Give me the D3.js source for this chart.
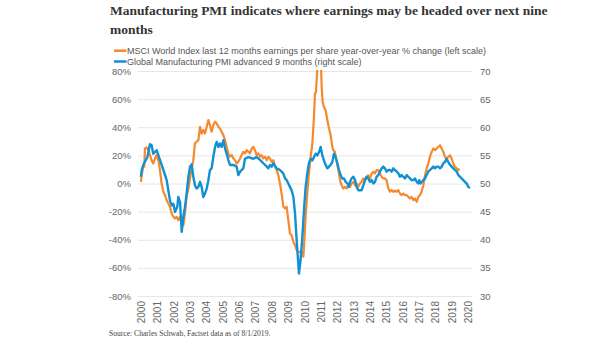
<!DOCTYPE html>
<html lang="en">
<head>
  <meta charset="UTF-8">
  <title>Manufacturing PMI vs. MSCI World EPS growth</title>
  <script src="https://d3js.org/d3.v7.min.js"></script>
  <style>
    body {
      margin: 0;
      background: #fff;
    }
    .title {
      font-family: "Liberation Serif", serif;
      font-weight: bold;
      font-size: 13.5px;
      fill: #333;
    }
    .legend text {
      font-family: "Liberation Sans", sans-serif;
      font-size: 9px;
      fill: #555;
    }
    .tick-label {
      font-family: "Liberation Sans", sans-serif;
      font-size: 9.5px;
      fill: #666;
    }
    .year-label {
      font-size: 10px;
    }
    .source {
      font-family: "Liberation Serif", serif;
      font-size: 7.6px;
      fill: #444;
    }
  </style>
</head>
<body>
  <svg width="605" height="341"></svg>

  <script>
    // MSCI World trailing 12m EPS, year-over-year % change (left scale)
    const epsYears = [
      2000.00, 2000.04, 2000.14, 2000.20, 2000.24, 2000.35, 2000.45, 2000.55, 2000.65, 2000.75,
      2000.86, 2000.96, 2001.06, 2001.16, 2001.26, 2001.37, 2001.47, 2001.57, 2001.77, 2001.88,
      2001.98, 2002.08, 2002.18, 2002.28, 2002.39, 2002.49, 2002.59, 2002.69, 2002.79, 2002.90,
      2003.00, 2003.10, 2003.20, 2003.30, 2003.40, 2003.51, 2003.61, 2003.71, 2003.81, 2003.91,
      2004.02, 2004.12, 2004.22, 2004.32, 2004.42, 2004.53, 2004.63, 2004.73, 2004.83, 2004.93,
      2005.04, 2005.14, 2005.24, 2005.34, 2005.44, 2005.55, 2005.65, 2005.75, 2005.85, 2005.95,
      2006.06, 2006.16, 2006.26, 2006.36, 2006.46, 2006.67, 2006.77, 2006.87, 2006.97, 2007.07,
      2007.18, 2007.28, 2007.38, 2007.48, 2007.58, 2007.69, 2007.79, 2007.89, 2007.99, 2008.09,
      2008.20, 2008.30, 2008.40, 2008.50, 2008.60, 2008.71, 2008.81, 2008.91, 2009.01, 2009.11,
      2009.21, 2009.32, 2009.42, 2009.52, 2009.62, 2009.72, 2009.83, 2009.93, 2009.97, 2010.07,
      2010.17, 2010.27, 2010.38, 2010.48, 2010.58, 2010.64, 2010.70, 2010.78, 2010.83, 2010.92,
      2011.00, 2011.05, 2011.11, 2011.19, 2011.29, 2011.40, 2011.50, 2011.60, 2011.70, 2011.76,
      2011.86, 2011.97, 2012.07, 2012.17, 2012.27, 2012.37, 2012.48, 2012.58, 2012.68, 2012.78,
      2012.88, 2012.99, 2013.09, 2013.19, 2013.29, 2013.39, 2013.49, 2013.60, 2013.70, 2013.80,
      2013.90, 2014.00, 2014.11, 2014.21, 2014.31, 2014.41, 2014.51, 2014.62, 2014.72, 2014.82,
      2014.92, 2015.02, 2015.13, 2015.23, 2015.33, 2015.43, 2015.53, 2015.64, 2015.74, 2015.84,
      2015.94, 2016.04, 2016.15, 2016.25, 2016.35, 2016.45, 2016.55, 2016.66, 2016.76, 2016.86,
      2016.90, 2016.96, 2017.06, 2017.16, 2017.27, 2017.37, 2017.47, 2017.57, 2017.67, 2017.78,
      2017.88, 2017.98, 2018.08, 2018.18, 2018.29, 2018.39, 2018.49, 2018.59, 2018.69, 2018.80,
      2018.90, 2019.00, 2019.10, 2019.20, 2019.31, 2019.41, 2019.47
    ];
    const epsValues = [
      1.2, 5.9, 11.9, 11.9, 24.9, 25.6, 23.7, 20.2, 16.6, 14.2,
      17.8, 20.2, 16.6, 9.5, 0, -5.9, -8.3, -11.9, -16.6, -21.4,
      -23.7, -24.9, -23.7, -26.1, -23.7, -28.5, -29.7, -21.4, -9.5, -3.6,
      3.6, 10.7, 16.6, 28.5, 29.7, 30.8, 40.3, 35.6, 38.0, 35.6,
      40.3, 45.1, 41.5, 36.8, 41.5, 43.9, 42.7, 40.3, 39.1, 36.8,
      34.4, 30.8, 26.1, 21.4, 19.0, 20.2, 17.8, 16.6, 14.2, 15.4,
      17.8, 20.2, 22.5, 21.4, 23.7, 21.4, 24.9, 26.1, 23.7, 20.2,
      21.4, 19.0, 20.2, 17.8, 19.0, 16.6, 19.0, 17.8, 15.4, 16.6,
      11.9, 9.5, 5.9, 0, -7.1, -16.6, -17.8, -16.6, -26.1, -35.6,
      -36.8, -41.5, -43.9, -47.4, -48.6, -48.6, -48.5, -52.1, -45.0, -23.7,
      -7.1, 7.1, 18.9, 28.4, 47.3, 63.9, 65.1, 80.5, 95.0, 102.0,
      88.0, 68.6, 58.0, 54.4, 52.1, 45.0, 39.1, 34.3, 26.0, 23.7,
      22.5, 15.4, 9.5, 2.4, -1.2, -3.6, -2.4, -3.6, -1.2, -2.4,
      0, 1.2, -1.2, 0, -2.4, 0, 1.2, 3.6, 2.4, 4.7,
      5.9, 3.6, 7.1, 8.3, 7.1, 9.5, 9.5, 7.1, 4.7, 3.6,
      3.6, 2.4, -3.6, -5.9, -4.7, -5.9, -5.2, -5.9, -4.7, -7.1,
      -8.3, -7.1, -8.3, -8.3, -9.5, -10.7, -9.5, -11.8, -10.7, -13.0,
      -11.8, -9.5, -8.3, -5.9, -1.2, 5.9, 10.7, 14.2, 18.9, 22.5,
      24.9, 23.7, 24.9, 26.0, 27.2, 24.9, 22.5, 18.9, 17.8, 18.9,
      20.1, 17.8, 14.2, 11.8, 10.7, 9.5, 10.7
    ];

    // Global manufacturing PMI, shifted forward 9 months (right scale)
    const pmiYears = [
      2000.00, 2000.04, 2000.14, 2000.24, 2000.39, 2000.55, 2000.65, 2000.75, 2000.96, 2001.16,
      2001.37, 2001.57, 2001.67, 2001.77, 2001.88, 2001.98, 2002.08, 2002.22, 2002.28, 2002.39,
      2002.49, 2002.59, 2002.69, 2002.79, 2002.90, 2003.00, 2003.10, 2003.20, 2003.30, 2003.40,
      2003.51, 2003.61, 2003.71, 2003.81, 2003.91, 2004.02, 2004.12, 2004.22, 2004.32, 2004.42,
      2004.53, 2004.63, 2004.73, 2004.83, 2004.93, 2005.04, 2005.14, 2005.24, 2005.34, 2005.44,
      2005.65, 2005.85, 2005.95, 2006.06, 2006.26, 2006.36, 2006.56, 2006.87, 2007.07, 2007.28,
      2007.48, 2007.69, 2007.79, 2007.89, 2007.99, 2008.09, 2008.30, 2008.50, 2008.70, 2008.81,
      2008.91, 2009.01, 2009.11, 2009.21, 2009.32, 2009.42, 2009.52, 2009.66, 2009.76, 2009.87,
      2009.97, 2010.07, 2010.17, 2010.27, 2010.38, 2010.48, 2010.58, 2010.68, 2010.78, 2010.89,
      2010.99, 2011.09, 2011.19, 2011.29, 2011.40, 2011.50, 2011.60, 2011.70, 2011.80, 2011.90,
      2012.01, 2012.11, 2012.21, 2012.31, 2012.41, 2012.52, 2012.62, 2012.72, 2012.78, 2012.88,
      2012.99, 2013.09, 2013.19, 2013.29, 2013.49, 2013.60, 2013.70, 2013.80, 2013.90, 2014.00,
      2014.11, 2014.21, 2014.31, 2014.41, 2014.51, 2014.62, 2014.72, 2014.82, 2014.92, 2015.02,
      2015.13, 2015.23, 2015.33, 2015.43, 2015.53, 2015.64, 2015.74, 2015.84, 2015.94, 2016.04,
      2016.15, 2016.25, 2016.35, 2016.45, 2016.55, 2016.66, 2016.76, 2016.86, 2016.96, 2017.02,
      2017.10, 2017.19, 2017.27, 2017.37, 2017.47, 2017.57, 2017.67, 2017.78, 2017.88, 2017.98,
      2018.08, 2018.18, 2018.29, 2018.39, 2018.49, 2018.59, 2018.69, 2018.80, 2018.90, 2019.00,
      2019.10, 2019.20, 2019.31, 2019.41, 2019.51, 2019.61, 2019.71, 2019.81, 2019.92, 2020.02,
      2020.12
    ];
    const pmiValues = [
      51.2, 52.4, 53.3, 53.9, 54.7, 57.0, 56.8, 55.3, 55.9, 54.2,
      52.4, 50.6, 48.8, 47.0, 46.1, 46.4, 44.95, 45.85, 47.6, 46.7,
      41.4, 44.1, 45.85, 48.2, 51.2, 53.0, 53.4, 51.2, 49.7, 49.1,
      49.4, 50.3, 49.4, 47.6, 48.2, 49.1, 50.6, 52.4, 52.7, 54.7,
      56.5, 57.4, 56.5, 57.1, 56.5, 57.7, 56.2, 55.3, 54.2, 53.3,
      53.3, 53.0, 51.5, 52.1, 52.7, 54.4, 54.7, 54.4, 54.7, 54.2,
      53.6, 53.0, 52.7, 53.3, 53.0, 53.6, 52.7, 52.4, 51.8, 50.9,
      50.6, 50.0, 49.4, 48.8, 47.6, 44.7, 40.0, 34.0, 36.4, 40.5,
      45.3, 49.4, 51.8, 53.6, 54.4, 54.1, 54.7, 55.3, 55.0, 55.6,
      56.5, 55.0, 54.1, 53.3, 52.7, 53.0, 53.3, 53.8, 55.3, 54.7,
      53.6, 52.4, 51.5, 50.9, 50.9, 50.3, 50.0, 49.4, 50.3, 50.9,
      51.2, 50.6, 49.4, 48.8, 48.8, 49.7, 50.6, 51.2, 50.9, 50.3,
      50.6, 50.0, 50.3, 51.2, 51.5, 52.1, 52.7, 53.0, 52.7, 52.1,
      52.4, 52.4, 52.1, 52.7, 52.4, 52.1, 51.8, 51.2, 51.5, 51.2,
      50.9, 51.5, 51.2, 50.9, 50.6, 50.6, 50.9, 50.3, 50.0, 50.6,
      50.0, 50.3, 50.6, 50.9, 51.5, 52.1, 52.4, 52.7, 53.0, 52.7,
      53.0, 53.0, 52.7, 53.0, 53.6, 53.8, 54.4, 53.8, 53.3, 53.0,
      52.7, 52.4, 52.1, 51.5, 51.2, 50.9, 50.6, 50.3, 50.0, 49.4,
      49.2
    ];

    const yearTicks = d3.range(2000, 2021);
    const leftTicks = [-80, -60, -40, -20, 0, 20, 40, 60, 80];
    const rightTicks = [30, 35, 40, 45, 50, 55, 60, 65, 70];

    const titleLines = [
      "Manufacturing PMI indicates where earnings may be headed over next nine",
      "months"
    ];
    const legendItems = [
      {label: "MSCI World Index last 12 months earnings per share year-over-year % change (left scale)", color: "#f5892c"},
      {label: "Global Manufacturing PMI advanced 9 months (right scale)", color: "#1191d4"}
    ];
    const sourceText = "Source: Charles Schwab, Factset data as of 8/1/2019.";

    const svg = d3.select("svg");
    const plot = {left: 138, right: 472, top: 71, bottom: 296};

    const x = d3.scaleLinear().domain([2000, 2020]).range([141, 468]);
    const yLeft = d3.scaleLinear().domain([-80, 80]).range([plot.bottom, plot.top]);
    const yRight = d3.scaleLinear().domain([30, 70]).range([plot.bottom, plot.top]);

    // title
    svg.selectAll(".title")
      .data(titleLines)
      .enter()
      .append("text")
        .attr("class", "title")
        .attr("x", 110)
        .attr("y", (d, i) => 15 + i * 18.5)
        .text(d => d);

    // legend
    const legend = svg.append("g").attr("class", "legend");
    legendItems.forEach((item, i) => {
      const ly = 50.7 + i * 10.8;
      legend.append("line")
        .attr("x1", 114).attr("x2", 126.5)
        .attr("y1", ly).attr("y2", ly)
        .attr("stroke", item.color)
        .attr("stroke-width", 2.5);
      legend.append("text")
        .attr("x", 127)
        .attr("y", ly + 3)
        .text(item.label);
    });

    // gridlines
    svg.append("g")
      .call(d3.axisLeft(yLeft).tickValues(leftTicks).tickSize(-(plot.right - plot.left)).tickFormat(""))
      .attr("transform", `translate(${plot.left},0)`)
      .call(g => g.select(".domain").remove())
      .call(g => g.selectAll(".tick line").attr("stroke", "#e6e6e6").attr("stroke-width", 1));

    // left axis labels
    svg.append("g")
      .attr("transform", `translate(${plot.left},0)`)
      .call(d3.axisLeft(yLeft).tickValues(leftTicks).tickSize(0).tickPadding(7).tickFormat(d => d + "%"))
      .call(g => g.select(".domain").remove())
      .call(g => g.selectAll("text").attr("class", "tick-label").attr("font-size", null).attr("font-family", null));

    // right axis labels
    svg.append("g")
      .attr("transform", `translate(${plot.right},0)`)
      .call(d3.axisRight(yRight).tickValues(rightTicks).tickSize(0).tickPadding(8))
      .call(g => g.select(".domain").remove())
      .call(g => g.selectAll("text").attr("class", "tick-label").attr("font-size", null).attr("font-family", null));

    // year labels, rotated
    svg.append("g")
      .attr("transform", `translate(0,${plot.bottom})`)
      .call(d3.axisBottom(x).tickValues(yearTicks).tickSize(0).tickFormat(d3.format("d")))
      .call(g => g.select(".domain").remove())
      .call(g => g.selectAll("text")
        .attr("class", "tick-label year-label")
        .attr("font-size", null).attr("font-family", null)
        .attr("transform", "rotate(-90)")
        .attr("x", -5)
        .attr("y", 0)
        .attr("dy", "0.35em")
        .style("text-anchor", "end"));

    // clip the series to the plot box
    svg.append("clipPath").attr("id", "plot-clip")
      .append("rect")
        .attr("x", plot.left - 4).attr("y", plot.top - 1)
        .attr("width", plot.right - plot.left + 8).attr("height", plot.bottom - plot.top + 2);

    const lines = svg.append("g").attr("clip-path", "url(#plot-clip)");

    const epsLine = d3.line().x(d => x(d[0])).y(d => yLeft(d[1]));
    const pmiLine = d3.line().x(d => x(d[0])).y(d => yRight(d[1]));

    lines.append("path")
      .datum(d3.zip(epsYears, epsValues))
      .attr("fill", "none")
      .attr("stroke", legendItems[0].color)
      .attr("stroke-width", 2.2)
      .attr("stroke-linejoin", "round")
      .attr("d", epsLine);

    lines.append("path")
      .datum(d3.zip(pmiYears, pmiValues))
      .attr("fill", "none")
      .attr("stroke", legendItems[1].color)
      .attr("stroke-width", 2.4)
      .attr("stroke-linejoin", "round")
      .attr("d", pmiLine);

    // source note
    svg.append("text")
      .attr("class", "source")
      .attr("x", 109)
      .attr("y", 336)
      .text(sourceText);
  </script>
</body>
</html>
